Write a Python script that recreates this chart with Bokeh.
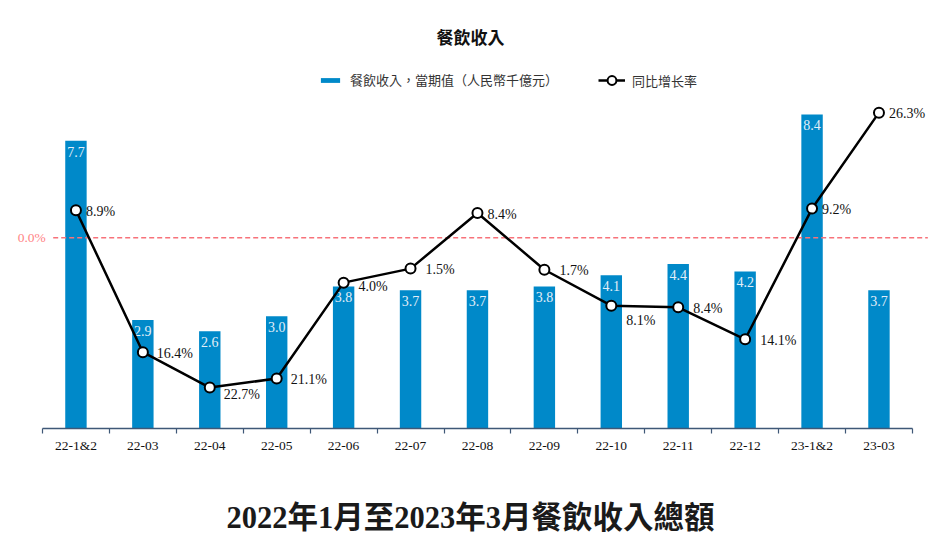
from bokeh.plotting import figure
from bokeh.models import (Range1d, FixedTicker, ColumnDataSource, Legend, LegendItem, Title)
from bokeh.core.properties import value
from bokeh.embed import file_html
from bokeh.resources import INLINE

# ---- data ----
periods = ["22-1&2", "22-03", "22-04", "22-05", "22-06", "22-07", "22-08",
           "22-09", "22-10", "22-11", "22-12", "23-1&2", "23-03"]
revenue = [7.7, 2.9, 2.6, 3.0, 3.8, 3.7, 3.7, 3.8, 4.1, 4.4, 4.2, 8.4, 3.7]
growth = [8.9, -16.4, -22.7, -21.1, -4.0, -1.5, 8.4, -1.7, -8.1, -8.4, -14.1, 9.2, 26.3]
ref_line_pct = 4.0
ref_line_label = "0.0%"

chart_title = "餐飲收入"
bar_name = "餐飲收入，當期值（人民幣千億元）"
line_name = "同比增长率"
bottom_title = "2022年1月至2023年3月餐飲收入總額"

# label nudges (pixels) for the growth labels
label_dx = [10, 14, 14, 14, 15, 15, 10, 15, 15, 15, 15, 10, 10]
label_dy = [1, 1, 7, 1, 4, 1, 1, 1, 15, 1, 1, 1, 1]

SERIF = "Liberation Serif"
CJK = "Noto Sans CJK TC"
BLUE = "#0089c9"

n = len(periods)
xs = [i + 0.5 for i in range(n)]

src = ColumnDataSource(dict(
    x=xs, rev=revenue, rev_lbl=[f"{v:.1f}" for v in revenue],
    g=growth, g_lbl=[f"{abs(v):.1f}%" for v in growth],
    dx=label_dx, dy=label_dy,
))

p = figure(width=940, height=545, output_backend="svg", toolbar_location=None,
           x_range=Range1d(-0.478, n + 0.27), y_range=Range1d(0, 9.79),
           y_axis_location=None, min_border_left=10, min_border_right=10,
           min_border_top=62, min_border_bottom=117)
p.extra_y_ranges = {"pct": Range1d(-30, 35.24)}
p.grid.visible = False
p.outline_line_color = None
p.background_fill_color = "white"
p.border_fill_color = "white"

p.title.text = chart_title
p.title.align = "center"
p.title.offset = 7
p.title.text_font = CJK
p.title.text_font_size = "17px"
p.title.text_font_style = "bold"
p.title.text_color = "#111111"
p.title.standoff = 27

bars = p.vbar(x="x", top="rev", width=0.32, source=src, fill_color=BLUE, line_color=None)
p.text(x="x", y="rev", text="rev_lbl", source=src, text_align="center",
       text_baseline="top", y_offset=6, text_font=value(SERIF),
       text_font_size="14px", text_color="#e3eef8")

# reference dashed line
p.segment(x0=[0.16], x1=[n + 0.23], y0=[ref_line_pct], y1=[ref_line_pct],
          y_range_name="pct", line_color="#f7727a", line_dash="5 3", line_width=1.3)
p.text(x=[0.05], y=[ref_line_pct], text=[ref_line_label], y_range_name="pct",
       text_align="right", text_baseline="middle", text_font=value(SERIF),
       text_font_size="13.5px", text_color="#ff8486")

ln = p.line(x="x", y="g", source=src, y_range_name="pct", line_color="black", line_width=2.5)
mk = p.scatter(x="x", y="g", source=src, y_range_name="pct", size=10, marker="circle",
               fill_color="white", line_color="black", line_width=2)
p.text(x="x", y="g", text="g_lbl", source=src, y_range_name="pct", x_offset="dx",
       y_offset="dy", text_align="left", text_baseline="middle", text_font=value(SERIF),
       text_font_size="14px", text_color="#111111")

ax = p.xaxis[0]
ax.ticker = FixedTicker(ticks=xs, minor_ticks=list(range(n + 1)))
ax.major_label_overrides = {x: lbl for x, lbl in zip(xs, periods)}
ax.bounds = (0, n)
ax.axis_line_color = "#3f5877"
ax.axis_line_width = 1.5
ax.major_tick_line_color = None
ax.minor_tick_line_color = "#3f5877"
ax.minor_tick_line_width = 1.2
ax.minor_tick_in = 0
ax.minor_tick_out = 5
ax.major_tick_out = 0
ax.major_tick_in = 0
ax.major_label_standoff = 4
ax.major_label_text_font = SERIF
ax.major_label_text_font_size = "13.5px"
ax.major_label_text_color = "#111111"

common = dict(orientation="horizontal", padding=0, margin=0, border_line_color=None,
              label_text_font=CJK, label_text_font_size="13px",
              label_text_color="#333333", background_fill_alpha=0)
bar_legend = Legend(items=[LegendItem(label=bar_name, renderers=[bars])],
                    location=(308, 339), glyph_width=24, glyph_height=6,
                    label_standoff=8, **common)
line_legend = Legend(items=[LegendItem(label=line_name, renderers=[ln, mk])],
                     location=(588, 337), glyph_width=27, glyph_height=22,
                     label_standoff=7, **common)
p.add_layout(bar_legend)
p.add_layout(line_legend)
p.add_layout(Title(text=" \n" + bottom_title, align="center",
                   text_font="'Liberation Serif', 'Noto Sans CJK TC'",
                   text_font_size="30.5px", text_font_style="bold", text_color="#1a1a1a",
                   standoff=19), "below")

open("out.html", "w").write(file_html(p, INLINE))
